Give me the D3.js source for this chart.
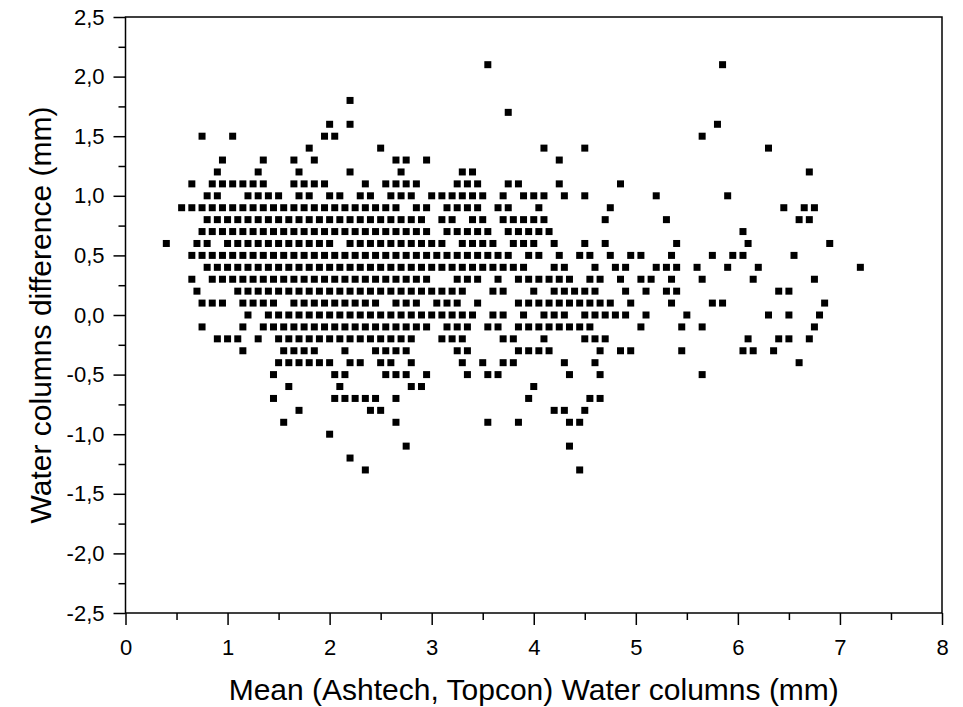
<!DOCTYPE html>
<html>
<head>
<meta charset="utf-8">
<script src="https://cdn.jsdelivr.net/npm/d3@7"></script>
<style>
  body { margin: 0; background: #fff; }
  svg text { font-family: "Liberation Sans", Arial, sans-serif; fill: #000; }
</style>
</head>
<body>
<svg id="chart" width="963" height="707"></svg>
<script>
// Axis ticks
const xMajorTicks = [0, 1, 2, 3, 4, 5, 6, 7, 8];
const xMinorTicks = [0.5, 1.5, 2.5, 3.5, 4.5, 5.5, 6.5, 7.5];
const yMajorTicks = [-2.5, -2.0, -1.5, -1.0, -0.5, 0.0, 0.5, 1.0, 1.5, 2.0, 2.5];
const yMinorTicks = [-2.25, -1.75, -1.25, -0.75, -0.25, 0.25, 0.75, 1.25, 1.75, 2.25];

// Difference levels (mm), one per row of points
const diffLevels = [2.1, 1.8, 1.7, 1.6, 1.5, 1.4, 1.3, 1.2, 1.1, 1.0, 0.9, 0.8, 0.7, 0.6, 0.5, 0.4, 0.3, 0.2, 0.1, 0.0,
  -0.1, -0.2, -0.3, -0.4, -0.5, -0.6, -0.7, -0.8, -0.9, -1.0, -1.1, -1.2, -1.3];

// Mean water column (mm) of every point at the matching difference level
const meansAtLevel = [
  [3.55, 5.85],
  [2.2],
  [3.75],
  [2.0, 2.2, 5.8],
  [0.75, 1.05, 1.95, 2.05, 5.65],
  [1.8, 2.5, 4.1, 4.5, 6.3],
  [0.95, 1.35, 1.65, 1.85, 2.65, 2.75, 2.95, 4.25],
  [0.9, 1.3, 1.7, 2.2, 2.7, 3.3, 3.4, 6.7],
  [0.65, 0.85, 0.95, 1.05, 1.15, 1.25, 1.35, 1.65, 1.75, 1.85, 1.95, 2.35, 2.55, 2.65, 2.75, 2.85,
   3.25, 3.35, 3.45, 3.75, 3.85, 4.25, 4.85],
  [0.8, 0.9, 1.2, 1.3, 1.4, 1.5, 1.7, 1.8, 2.0, 2.1, 2.3, 2.4, 2.6, 2.7, 2.8, 3.0, 3.1, 3.2, 3.3, 3.4,
   3.5, 3.7, 3.9, 4.0, 4.1, 4.3, 4.5, 5.2, 5.9],
  [0.55, 0.65, 0.75, 0.85, 0.95, 1.05, 1.15, 1.25, 1.35, 1.45, 1.55, 1.65, 1.75, 1.85, 1.95, 2.05,
   2.15, 2.25, 2.35, 2.45, 2.55, 2.65, 2.85, 2.95, 3.15, 3.25, 3.35, 3.45, 3.65, 3.75, 4.05, 4.75,
   6.45, 6.65, 6.75],
  [0.8, 0.9, 1.0, 1.1, 1.2, 1.3, 1.4, 1.5, 1.6, 1.7, 1.8, 1.9, 2.0, 2.1, 2.2, 2.3, 2.4, 2.5, 2.6, 2.7,
   2.8, 2.9, 3.1, 3.2, 3.4, 3.5, 3.7, 3.8, 3.9, 4.0, 4.1, 4.7, 5.3, 6.6, 6.7],
  [0.75, 0.85, 0.95, 1.05, 1.15, 1.25, 1.35, 1.45, 1.55, 1.65, 1.75, 1.85, 1.95, 2.05, 2.15, 2.25,
   2.35, 2.45, 2.55, 2.65, 2.75, 2.85, 2.95, 3.15, 3.25, 3.35, 3.45, 3.55, 3.75, 3.85, 3.95, 4.05,
   4.15, 6.05],
  [0.4, 0.7, 0.8, 1.0, 1.1, 1.2, 1.3, 1.4, 1.5, 1.6, 1.7, 1.8, 1.9, 2.0, 2.2, 2.3, 2.4, 2.5, 2.6, 2.7,
   2.8, 2.9, 3.0, 3.1, 3.3, 3.4, 3.5, 3.6, 3.8, 3.9, 4.0, 4.2, 4.5, 4.7, 5.4, 6.1, 6.9],
  [0.65, 0.75, 0.85, 0.95, 1.05, 1.15, 1.25, 1.35, 1.45, 1.55, 1.65, 1.75, 1.85, 1.95, 2.05, 2.15,
   2.25, 2.35, 2.45, 2.55, 2.65, 2.75, 2.85, 2.95, 3.05, 3.15, 3.25, 3.35, 3.45, 3.55, 3.65, 3.75,
   3.95, 4.05, 4.25, 4.45, 4.55, 4.75, 4.95, 5.05, 5.35, 5.75, 5.95, 6.05, 6.55],
  [0.8, 0.9, 1.0, 1.1, 1.2, 1.3, 1.4, 1.5, 1.6, 1.7, 1.8, 1.9, 2.0, 2.1, 2.2, 2.3, 2.4, 2.5, 2.6, 2.7,
   2.8, 2.9, 3.0, 3.1, 3.2, 3.3, 3.4, 3.5, 3.6, 3.7, 3.8, 3.9, 4.2, 4.3, 4.6, 4.8, 4.9, 5.2, 5.3, 5.4,
   5.6, 5.9, 6.2, 7.2],
  [0.65, 0.85, 0.95, 1.05, 1.15, 1.25, 1.35, 1.45, 1.55, 1.65, 1.75, 1.85, 1.95, 2.05, 2.15, 2.25,
   2.35, 2.45, 2.55, 2.65, 2.75, 2.85, 2.95, 3.25, 3.35, 3.45, 3.65, 3.85, 3.95, 4.05, 4.15, 4.25,
   4.35, 4.55, 4.65, 4.85, 5.05, 5.15, 5.35, 5.65, 6.15, 6.75],
  [0.7, 1.1, 1.2, 1.3, 1.4, 1.5, 1.6, 1.7, 1.8, 1.9, 2.0, 2.1, 2.2, 2.3, 2.4, 2.5, 2.6, 2.7, 2.8, 2.9,
   3.0, 3.1, 3.2, 3.3, 3.6, 3.7, 4.0, 4.2, 4.3, 4.4, 4.5, 4.6, 4.9, 5.1, 5.3, 5.4, 6.4, 6.5],
  [0.75, 0.85, 0.95, 1.15, 1.25, 1.35, 1.45, 1.65, 1.75, 1.85, 1.95, 2.05, 2.15, 2.25, 2.35, 2.45,
   2.65, 2.75, 2.85, 3.05, 3.15, 3.25, 3.45, 3.85, 3.95, 4.05, 4.15, 4.25, 4.35, 4.45, 4.55, 4.65,
   4.75, 4.95, 5.35, 5.75, 5.85, 6.85],
  [1.2, 1.4, 1.5, 1.6, 1.7, 1.8, 1.9, 2.0, 2.1, 2.2, 2.3, 2.4, 2.5, 2.6, 2.7, 2.8, 2.9, 3.0, 3.1, 3.2,
   3.3, 3.4, 3.6, 3.7, 3.9, 4.1, 4.2, 4.3, 4.5, 4.6, 4.7, 4.8, 4.9, 5.1, 5.5, 6.3, 6.5, 6.8],
  [0.75, 1.15, 1.35, 1.45, 1.55, 1.65, 1.75, 1.85, 1.95, 2.05, 2.15, 2.25, 2.35, 2.45, 2.55, 2.65,
   2.75, 2.85, 2.95, 3.15, 3.25, 3.35, 3.55, 3.65, 3.85, 3.95, 4.05, 4.15, 4.25, 4.35, 4.45, 4.55,
   5.05, 5.45, 5.65, 6.75],
  [0.9, 1.0, 1.1, 1.3, 1.5, 1.6, 1.7, 1.8, 1.9, 2.0, 2.1, 2.2, 2.3, 2.4, 2.5, 2.6, 2.7, 2.8, 3.1, 3.2,
   3.3, 3.7, 3.8, 4.1, 4.5, 4.6, 4.7, 6.1, 6.4, 6.5, 6.7],
  [1.15, 1.55, 1.65, 1.75, 1.85, 2.15, 2.45, 2.55, 2.65, 2.75, 3.25, 3.35, 3.85, 3.95, 4.05, 4.15,
   4.65, 4.85, 4.95, 5.45, 6.05, 6.15, 6.35],
  [1.5, 1.6, 1.7, 1.8, 1.9, 2.0, 2.2, 2.3, 2.5, 2.6, 2.8, 3.3, 3.5, 3.7, 3.8, 4.3, 4.6, 6.6],
  [1.45, 2.05, 2.15, 2.55, 2.65, 2.75, 2.95, 3.35, 3.55, 3.65, 4.35, 4.65, 5.65],
  [1.6, 2.1, 2.8, 2.9, 4.0],
  [1.45, 2.05, 2.15, 2.25, 2.35, 2.45, 2.65, 3.95, 4.55, 4.65],
  [1.7, 2.4, 2.5, 4.2, 4.3, 4.5],
  [1.55, 2.65, 3.55, 3.85, 4.35, 4.45],
  [2.0],
  [2.75, 4.35],
  [2.2],
  [2.35, 4.45]
];

const xTitle = "Mean (Ashtech, Topcon) Water columns (mm)";
const yTitle = "Water columns difference (mm)";

const svg = d3.select("#chart");
const plotLeft = 125.5, plotRight = 942, plotTop = 17, plotBottom = 613;

const x = d3.scaleLinear().domain([0, 8]).range([plotLeft, plotRight]);
const y = d3.scaleLinear().domain([-2.5, 2.5]).range([plotBottom, plotTop]);

const points = [];
diffLevels.forEach((d, i) => meansAtLevel[i].forEach(m => points.push({ mean: m, diff: d })));

const comma = v => d3.format(".1f")(v).replace(".", ",").replace("\u2212", "-");

// minor ticks
svg.append("g").attr("transform", `translate(0,${plotBottom})`)
  .call(d3.axisBottom(x).tickValues(xMinorTicks).tickSize(7).tickFormat(""))
  .call(g => g.select(".domain").remove());
svg.append("g").attr("transform", `translate(${plotLeft},0)`)
  .call(d3.axisLeft(y).tickValues(yMinorTicks).tickSize(7).tickFormat(""))
  .call(g => g.select(".domain").remove());

// major ticks with labels
svg.append("g").attr("transform", `translate(0,${plotBottom})`)
  .call(d3.axisBottom(x).tickValues(xMajorTicks).tickSize(12).tickPadding(14).tickFormat(d3.format("d")))
  .call(g => g.select(".domain").remove());
svg.append("g").attr("transform", `translate(${plotLeft},0)`)
  .call(d3.axisLeft(y).tickValues(yMajorTicks).tickSize(12).tickPadding(9).tickFormat(comma))
  .call(g => g.select(".domain").remove());

svg.selectAll(".tick line").attr("stroke", "#000").attr("stroke-width", 1.5);
svg.selectAll(".tick text").attr("font-size", 22).attr("font-family", "Liberation Sans, Arial, sans-serif");

// frame
svg.append("rect")
  .attr("x", plotLeft).attr("y", plotTop)
  .attr("width", plotRight - plotLeft).attr("height", plotBottom - plotTop)
  .attr("fill", "none").attr("stroke", "#000").attr("stroke-width", 1.5);

// points
const s = 7;
svg.append("g").selectAll("rect").data(points).join("rect")
  .attr("x", d => x(d.mean) - s / 2)
  .attr("y", d => y(d.diff) - s / 2)
  .attr("width", s).attr("height", s)
  .attr("fill", "#000");

// axis titles
svg.append("text")
  .attr("x", (plotLeft + plotRight) / 2).attr("y", 700)
  .attr("text-anchor", "middle").attr("font-size", 30)
  .text(xTitle);
svg.append("text")
  .attr("transform", `translate(51,${(plotTop + plotBottom) / 2}) rotate(-90)`)
  .attr("text-anchor", "middle").attr("font-size", 30)
  .text(yTitle);
</script>
</body>
</html>
